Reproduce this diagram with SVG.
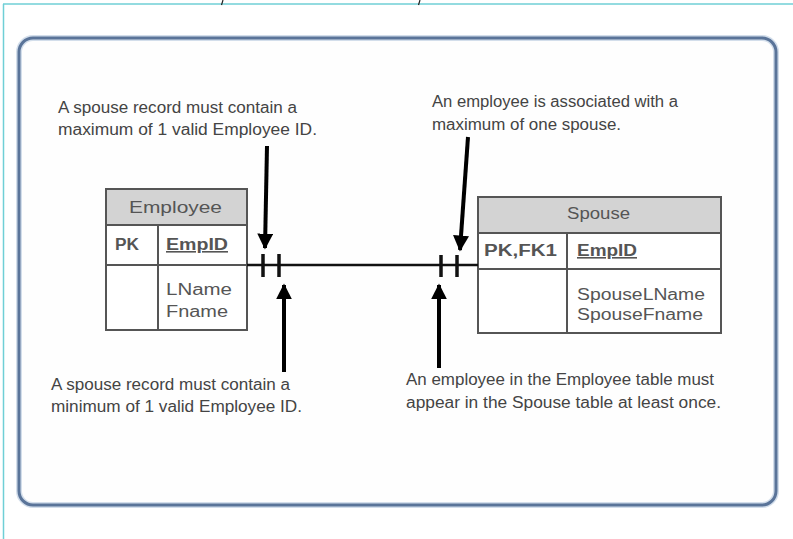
<svg xmlns="http://www.w3.org/2000/svg" width="793" height="539" viewBox="0 0 793 539">
<style>
.note{font-family:"Liberation Sans",Arial,sans-serif;font-size:16px;fill:#444444}
.ent{font-family:"Liberation Sans",Arial,sans-serif;font-size:16px;fill:#555555}
.bold{font-weight:bold}
.box{fill:#ffffff;stroke:#555555;stroke-width:2}
.hdr{fill:#d3d3d3;stroke:#555555;stroke-width:2}
.div{stroke:#555555;stroke-width:2;fill:none}
.conn{stroke:#111111;stroke-width:2.5;fill:none}
.tick{stroke:#111111;stroke-width:3.5;fill:none}
.arrow{stroke:#000000;stroke-width:4;fill:none;marker-end:url(#ah)}
</style>
<defs>
<marker id="ah" viewBox="0 0 10 10" refX="9" refY="5" markerWidth="4" markerHeight="4" orient="auto" markerUnits="strokeWidth">
<path d="M0,0 L10,5 L0,10 z" fill="#000"/>
</marker>
</defs>
<rect x="0" y="0" width="793" height="539" fill="#ffffff"/>
<g id="frame">
<line x1="3" y1="4" x2="793" y2="4" stroke="#6fcfd6" stroke-width="1.5"/>
<line x1="3.5" y1="4" x2="3.5" y2="539" stroke="#6fcfd6" stroke-width="1.5"/>
<path d="M223,0 L221.5,5 M420,0 L418.5,5" stroke="#222" stroke-width="1.2"/>
<rect x="19" y="38" width="757" height="467" rx="14" ry="14" fill="#fefefe" stroke="#d3deeb" stroke-width="6"/>
<rect x="19" y="38" width="757" height="467" rx="14" ry="14" fill="none" stroke="#5a7499" stroke-width="3"/>
</g>
<g id="employee">
<rect class="box" x="106" y="189" width="141" height="141"/>
<rect class="hdr" x="106" y="189" width="141" height="36"/>
<line class="div" x1="106" y1="265" x2="247" y2="265"/>
<line class="div" x1="158" y1="225" x2="158" y2="330"/>
<text class="ent" x="129" y="213" textLength="93" lengthAdjust="spacingAndGlyphs">Employee</text>
<text class="ent bold" x="115" y="250" textLength="24" lengthAdjust="spacingAndGlyphs">PK</text>
<text class="ent bold" x="166" y="250" textLength="62" lengthAdjust="spacingAndGlyphs" text-decoration="underline">EmpID</text>
<text class="ent" x="166" y="295" textLength="66" lengthAdjust="spacingAndGlyphs">LName</text>
<text class="ent" x="166" y="317" textLength="62" lengthAdjust="spacingAndGlyphs">Fname</text>
</g>
<g id="spouse">
<rect class="box" x="478" y="197" width="243" height="136"/>
<rect class="hdr" x="478" y="197" width="243" height="36"/>
<line class="div" x1="478" y1="269" x2="721" y2="269"/>
<line class="div" x1="567" y1="233" x2="567" y2="333"/>
<text class="ent" x="567" y="219" textLength="63" lengthAdjust="spacingAndGlyphs">Spouse</text>
<text class="ent bold" x="484" y="256" textLength="73" lengthAdjust="spacingAndGlyphs">PK,FK1</text>
<text class="ent bold" x="577" y="256" textLength="60" lengthAdjust="spacingAndGlyphs" text-decoration="underline">EmpID</text>
<text class="ent" x="577" y="300" textLength="128" lengthAdjust="spacingAndGlyphs">SpouseLName</text>
<text class="ent" x="577" y="320" textLength="126" lengthAdjust="spacingAndGlyphs">SpouseFname</text>
</g>
<g id="connectors">
<line class="conn" x1="247" y1="265" x2="478" y2="265"/>
<line class="tick" x1="263" y1="254" x2="263" y2="277"/>
<line class="tick" x1="279" y1="254" x2="279" y2="277"/>
<line class="tick" x1="441" y1="255" x2="441" y2="277"/>
<line class="tick" x1="457" y1="255" x2="457" y2="277"/>
<line class="arrow" x1="267" y1="146" x2="265" y2="248"/>
<line class="arrow" x1="284" y1="372" x2="284" y2="285"/>
<line class="arrow" x1="468" y1="137" x2="460" y2="250"/>
<line class="arrow" x1="439" y1="368" x2="439" y2="285"/>
</g>
<g id="notes">
<text class="note" x="58" y="113" textLength="239" lengthAdjust="spacingAndGlyphs">A spouse record must contain a</text>
<text class="note" x="58" y="135" textLength="259" lengthAdjust="spacingAndGlyphs">maximum of 1 valid Employee ID.</text>
<text class="note" x="432" y="107" textLength="246" lengthAdjust="spacingAndGlyphs">An employee is associated with a</text>
<text class="note" x="432" y="130" textLength="189" lengthAdjust="spacingAndGlyphs">maximum of one spouse.</text>
<text class="note" x="51" y="390" textLength="239" lengthAdjust="spacingAndGlyphs">A spouse record must contain a</text>
<text class="note" x="51" y="412" textLength="251" lengthAdjust="spacingAndGlyphs">minimum of 1 valid Employee ID.</text>
<text class="note" x="406" y="385" textLength="308" lengthAdjust="spacingAndGlyphs">An employee in the Employee table must</text>
<text class="note" x="406" y="408" textLength="315" lengthAdjust="spacingAndGlyphs">appear in the Spouse table at least once.</text>
</g>
</svg>
